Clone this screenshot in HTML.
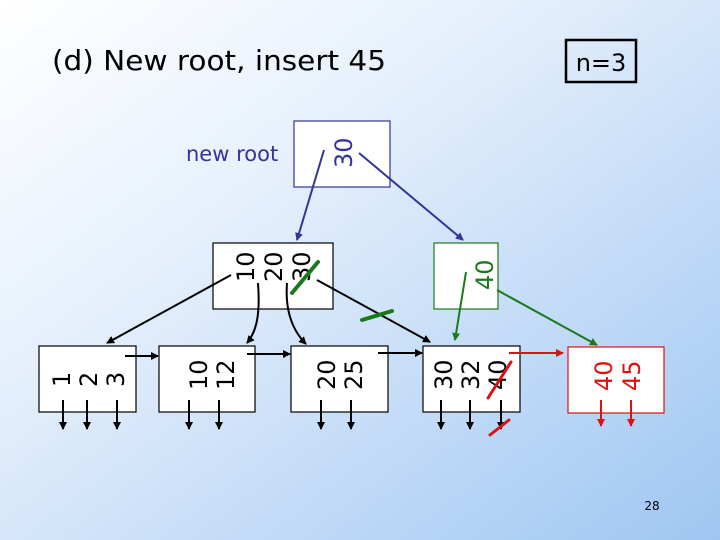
<!DOCTYPE html>
<html><head><style>
body{margin:0;width:720px;height:540px;overflow:hidden;}
svg{display:block}
text{font-family:"DejaVu Sans","Liberation Sans",sans-serif;}
</style></head><body>
<svg width="720" height="540" viewBox="0 0 720 540" xmlns="http://www.w3.org/2000/svg">
<defs>
<linearGradient id="bg" x1="0" y1="0" x2="1" y2="1">
<stop offset="0" stop-color="#ffffff"/><stop offset="0.35" stop-color="#e6f0fc"/><stop offset="1" stop-color="#9fc6f2"/>
</linearGradient>
<marker id="ak" markerWidth="8" markerHeight="8" refX="7" refY="4" orient="auto" markerUnits="userSpaceOnUse"><path d="M0,0 L8,4 L0,8 z" fill="#000"/></marker>
<marker id="ab" markerWidth="8" markerHeight="8" refX="7" refY="4" orient="auto" markerUnits="userSpaceOnUse"><path d="M0,0 L8,4 L0,8 z" fill="#333399"/></marker>
<marker id="ag" markerWidth="8" markerHeight="8" refX="7" refY="4" orient="auto" markerUnits="userSpaceOnUse"><path d="M0,0 L8,4 L0,8 z" fill="#1a7a1a"/></marker>
<marker id="ar" markerWidth="8" markerHeight="8" refX="7" refY="4" orient="auto" markerUnits="userSpaceOnUse"><path d="M0,0 L8,4 L0,8 z" fill="#dd1111"/></marker>
</defs>
<rect width="720" height="540" fill="url(#bg)"/>
<text x="52" y="70" font-size="28" fill="#000" textLength="334" lengthAdjust="spacingAndGlyphs">(d) New root,  insert 45</text>
<rect x="566" y="40" width="70" height="42" fill="none" stroke="#000" stroke-width="2.5"/>
<text x="601" y="71" font-size="24" text-anchor="middle">n=3</text>
<text x="186" y="161" font-size="21" fill="#333399">new root</text>
<rect x="294" y="121" width="96" height="66" fill="#fff" stroke="#333399" stroke-width="1.2"/>
<rect x="213" y="243" width="120" height="66" fill="#fff" stroke="#000" stroke-width="1.2"/>
<rect x="434" y="243" width="64" height="66" fill="#fff" stroke="#1a7a1a" stroke-width="1.2"/>
<rect x="39" y="346" width="97" height="66" fill="#fff" stroke="#000" stroke-width="1.2"/>
<rect x="159" y="346" width="96" height="66" fill="#fff" stroke="#000" stroke-width="1.2"/>
<rect x="291" y="346" width="97" height="66" fill="#fff" stroke="#000" stroke-width="1.2"/>
<rect x="423" y="346" width="97" height="66" fill="#fff" stroke="#000" stroke-width="1.2"/>
<rect x="568" y="347" width="96" height="66" fill="#fff" stroke="#dd1111" stroke-width="1.2"/>
<g font-size="24">
<text transform="translate(352,168) rotate(-90)" fill="#333399">30</text>
<text transform="translate(254,282) rotate(-90)">10</text>
<text transform="translate(282,282) rotate(-90)">20</text>
<text transform="translate(310,282) rotate(-90)">30</text>
<text transform="translate(493,290) rotate(-90)" fill="#1a7a1a">40</text>
<text transform="translate(70,387) rotate(-90)">1</text>
<text transform="translate(97,387) rotate(-90)">2</text>
<text transform="translate(124,387) rotate(-90)">3</text>
<text transform="translate(207,390) rotate(-90)">10</text>
<text transform="translate(234,390) rotate(-90)">12</text>
<text transform="translate(335,390) rotate(-90)">20</text>
<text transform="translate(362,390) rotate(-90)">25</text>
<text transform="translate(452,390) rotate(-90)">30</text>
<text transform="translate(479,390) rotate(-90)">32</text>
<text transform="translate(506,390) rotate(-90)">40</text>
<text transform="translate(612,391) rotate(-90)" fill="#dd1111">40</text>
<text transform="translate(640,391) rotate(-90)" fill="#dd1111">45</text>
</g>
<g stroke="#333399" stroke-width="2" fill="none">
<line x1="324" y1="150" x2="297" y2="240" marker-end="url(#ab)"/>
<line x1="359" y1="153" x2="463" y2="240" marker-end="url(#ab)"/>
</g>
<g stroke="#000" stroke-width="2" fill="none">
<line x1="231" y1="275" x2="107" y2="343" marker-end="url(#ak)"/>
<path d="M258,283 C260,310 258,330 247,343" marker-end="url(#ak)"/>
<path d="M287,283 C285,310 292,330 306,344" marker-end="url(#ak)"/>
<line x1="317" y1="280" x2="430" y2="342" marker-end="url(#ak)"/>
<line x1="125" y1="356" x2="158" y2="356" marker-end="url(#ak)"/>
<line x1="247" y1="354" x2="290" y2="354" marker-end="url(#ak)"/>
<line x1="378" y1="353" x2="422" y2="353" marker-end="url(#ak)"/>
<line x1="63" y1="400" x2="63" y2="429" marker-end="url(#ak)"/>
<line x1="87" y1="400" x2="87" y2="429" marker-end="url(#ak)"/>
<line x1="117" y1="400" x2="117" y2="429" marker-end="url(#ak)"/>
<line x1="189" y1="400" x2="189" y2="429" marker-end="url(#ak)"/>
<line x1="219" y1="400" x2="219" y2="429" marker-end="url(#ak)"/>
<line x1="321" y1="400" x2="321" y2="429" marker-end="url(#ak)"/>
<line x1="351" y1="400" x2="351" y2="429" marker-end="url(#ak)"/>
<line x1="441" y1="400" x2="441" y2="429" marker-end="url(#ak)"/>
<line x1="470" y1="400" x2="470" y2="429" marker-end="url(#ak)"/>
<line x1="501" y1="400" x2="501" y2="429" marker-end="url(#ak)"/>
</g>
<g stroke="#1a7a1a" stroke-width="2" fill="none">
<line x1="466" y1="272" x2="455" y2="340" marker-end="url(#ag)"/>
<line x1="497" y1="290" x2="597" y2="345" marker-end="url(#ag)"/>
</g>
<g stroke="#dd1111" stroke-width="2" fill="none">
<line x1="509" y1="353" x2="563" y2="353" marker-end="url(#ar)"/>
<line x1="601" y1="400" x2="601" y2="426" marker-end="url(#ar)"/>
<line x1="631" y1="400" x2="631" y2="426" marker-end="url(#ar)"/>
</g>
<g stroke-linecap="round" fill="none">
<line x1="292" y1="293" x2="318" y2="262" stroke="#1a7a1a" stroke-width="4"/>
<line x1="362" y1="320" x2="392" y2="311" stroke="#1a7a1a" stroke-width="4"/>
<line x1="488" y1="398" x2="511" y2="362" stroke="#dd1111" stroke-width="3"/>
<line x1="490" y1="435" x2="509" y2="420" stroke="#dd1111" stroke-width="3"/>
</g>
<text x="652" y="510" font-size="12" text-anchor="middle" font-family="Liberation Serif,serif">28</text>
</svg>
</body></html>
